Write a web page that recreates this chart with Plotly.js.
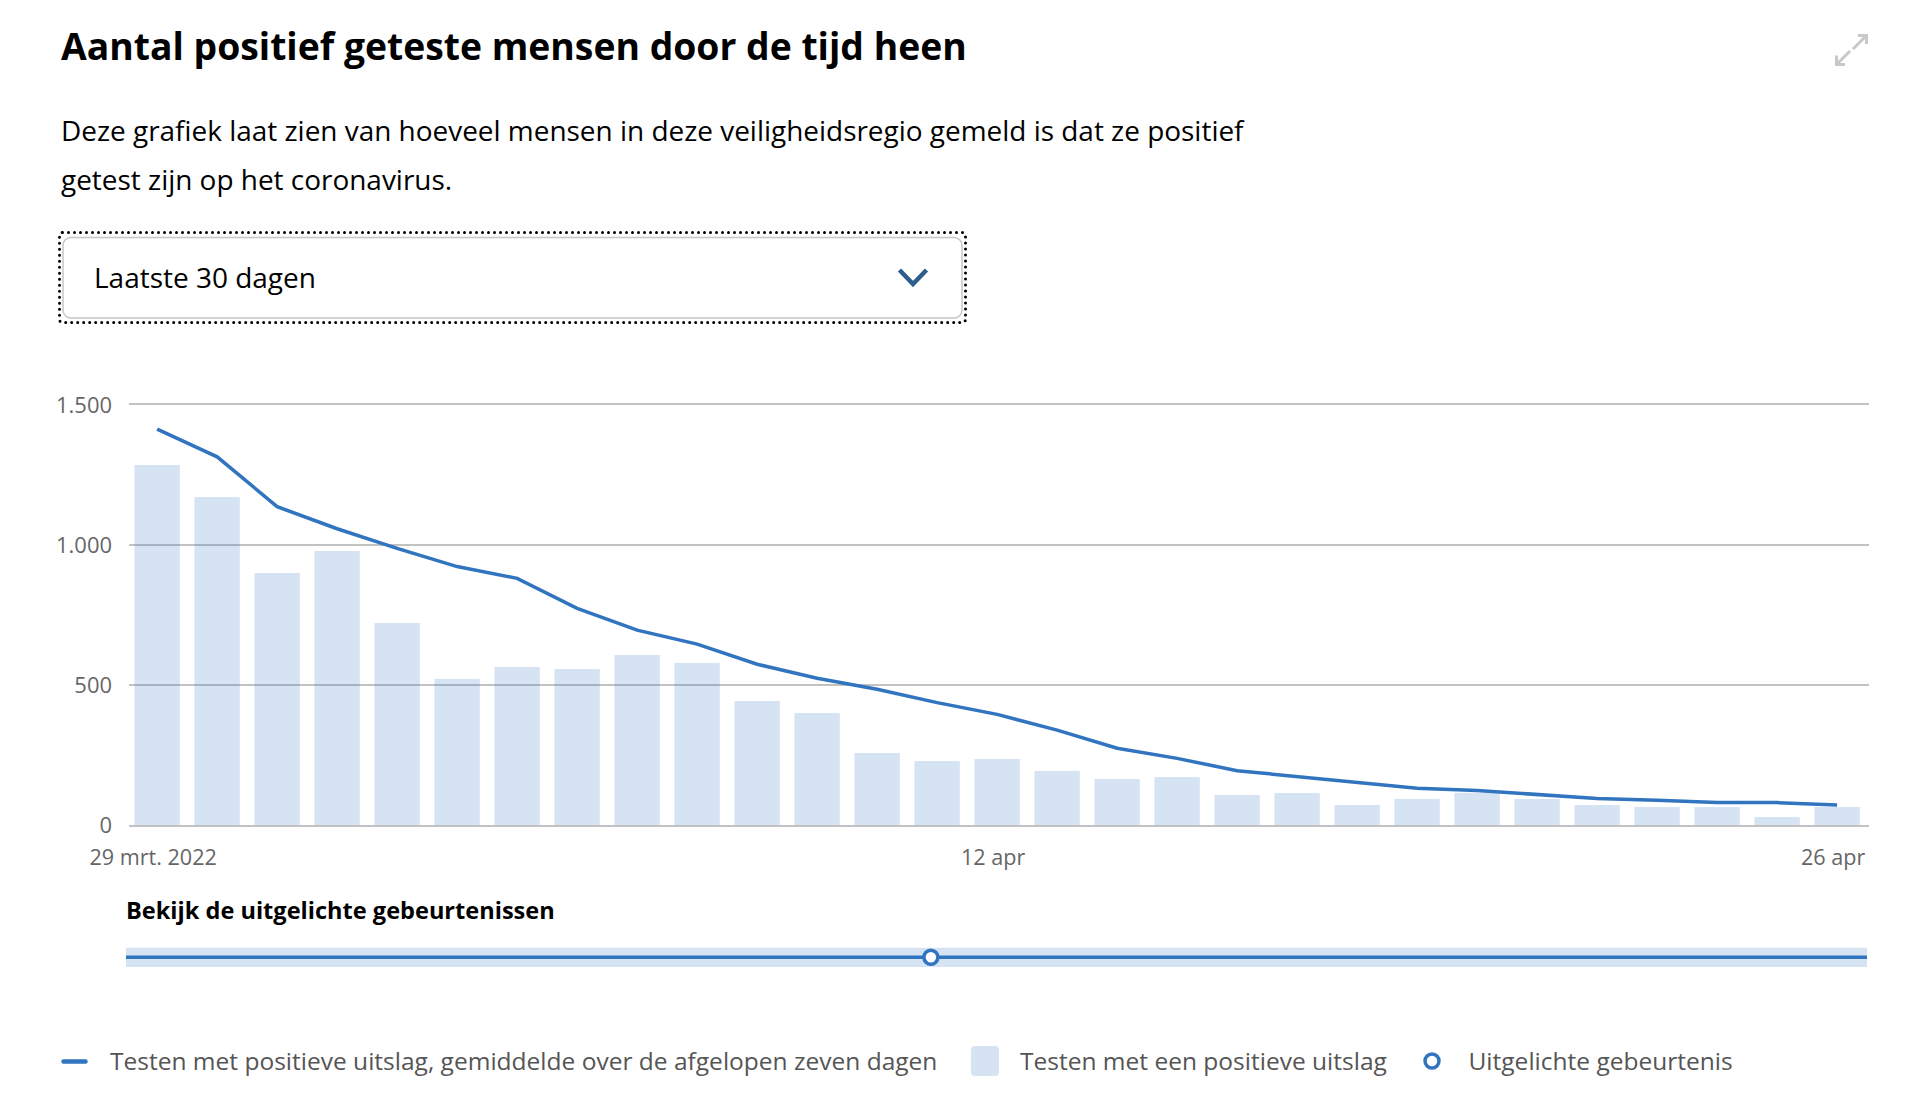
<!DOCTYPE html>
<html><head><meta charset="utf-8">
<script src="https://cdn.plot.ly/plotly-3.0.1.min.js"></script>
<style>
html,body{margin:0;padding:0;background:#fff;}
#wrap{position:relative;width:1922px;height:1110px;overflow:hidden;background:#fff;}
#chart{position:absolute;left:0;top:0;width:1922px;height:1110px;}
#overlay{position:absolute;left:0;top:0;pointer-events:none;}
</style></head><body>
<div id="wrap"><div id="chart"></div><svg id="overlay" width="1922" height="1110" xmlns="http://www.w3.org/2000/svg"></svg></div>
<script>
// ---------------- data ----------------
const dates = ['2022-03-29','2022-03-30','2022-03-31','2022-04-01','2022-04-02','2022-04-03','2022-04-04',
  '2022-04-05','2022-04-06','2022-04-07','2022-04-08','2022-04-09','2022-04-10','2022-04-11','2022-04-12',
  '2022-04-13','2022-04-14','2022-04-15','2022-04-16','2022-04-17','2022-04-18','2022-04-19','2022-04-20',
  '2022-04-21','2022-04-22','2022-04-23','2022-04-24','2022-04-25','2022-04-26'];
const positives = [1286,1171,900,979,721,521,564,557,607,579,443,400,257,229,236,193,164,171,107,114,71,93,115,93,71,64,64,29,64];
const avg7 = [1414,1315,1137,1058,988,923,881,774,696,646,574,524,485,437,395,339,274,238,194,173,150,131,123,110,95,88,80,80,71];
const eventDates = ['2022-04-10 21:30'];
const yTickVals = [0,500,1000,1500];
const yTickText = ['0','500','1.000','1.500'];
const xTickVals = ['2022-03-29','2022-04-12','2022-04-26'];
const xTickText = ['29 mrt. 2022','12 apr','26 apr'];

const titleText = 'Aantal positief geteste mensen door de tijd heen';
const descLines = ['Deze grafiek laat zien van hoeveel mensen in deze veiligheidsregio gemeld is dat ze positief',
                   'getest zijn op het coronavirus.'];
const dropdownText = 'Laatste 30 dagen';
const eventsTitle = 'Bekijk de uitgelichte gebeurtenissen';
const lineName = 'Testen met positieve uitslag, gemiddelde over de afgelopen zeven dagen';
const barName = 'Testen met een positieve uitslag';
const eventName = 'Uitgelichte gebeurtenis';

// ---------------- style ----------------
const FONT = '"Liberation Sans Narrow", "Open Sans", sans-serif';
const BLUE = '#3174C0';
const BAR = 'rgba(49,116,192,0.2)';
const GRID = '#c2c2c2';
const W = 1922, H = 1110;
const L = 129, R = 53, T = 405, B = 143;
const plotH = H - T - B;
const mainBottom = (967 - 825) / plotH;

const ctx = document.createElement('canvas').getContext('2d');
function fit(text, target, weight) {
  ctx.font = (weight || 'normal') + ' 100px ' + FONT;
  return 100 * target / ctx.measureText(text).width;
}
const titleSize = fit(titleText, 906, 'bold');
const descSize = fit(descLines[0], 1183);
const ddSize = fit(dropdownText, 222);
const evSize = fit(eventsTitle, 429, 'bold');
const legSize = fit(lineName, 828);
const yTickSize = fit('1.500', 56);
const xTickSize = fit('29 mrt. 2022', 127.5);

// ---------------- chart ----------------
const traces = [
  {type:'bar', x:dates, y:positives, name:barName, marker:{color:BAR}, hoverinfo:'x+y'},
  {type:'scatter', mode:'lines', x:dates, y:avg7, name:lineName, line:{color:BLUE, width:3.5}, hoverinfo:'x+y'},
  {type:'scatter', mode:'markers', x:eventDates, y:[0.5], xaxis:'x', yaxis:'y2', name:eventName, cliponaxis:false,
   marker:{symbol:'circle', size:14, color:'#ffffff', line:{color:BLUE, width:3.5}}, hoverinfo:'skip'}
];

const layout = {
  width: W, height: H,
  margin: {l:L, r:R, t:T, b:B, pad:0},
  paper_bgcolor:'rgba(0,0,0,0)', plot_bgcolor:'rgba(0,0,0,0)',
  font: {family: FONT, color:'#666666'},
  showlegend: false,
  bargap: 0.243,
  title: {text: titleText, xref:'container', x: 61/W, xanchor:'left', yref:'container', y: 1 - 59.5/H, yanchor:'bottom',
          pad:{t:0,b:0,l:0,r:0}, font:{family: FONT, size: titleSize, color:'#000000', weight:'bold'}},
  xaxis: {type:'date', range:['2022-03-28 12:45','2022-04-26 12:45'], anchor:'y',
          tickmode:'array', tickvals:xTickVals, ticktext:xTickText, ticks:'', showgrid:false, zeroline:false,
          showline:true, mirror:true, linecolor:GRID, linewidth:2,
          tickfont:{size:xTickSize, color:'#666666'}, ticklabelstandoff: 12, ticklabelshift: -4, fixedrange:true},
  yaxis: {domain:[mainBottom, 1], range:[0,1500], tickmode:'array', tickvals:yTickVals, ticktext:yTickText,
          ticks:'', showgrid:true, gridcolor:GRID, gridwidth:2, zeroline:false, showline:false,
          tickfont:{size:yTickSize, color:'#666666'}, ticklabelstandoff: 16, fixedrange:true},
  yaxis2: {domain:[0, 19.5/plotH], range:[0,1], visible:false, fixedrange:true, anchor:'x'},
  shapes: [
    {type:'rect', xref:'paper', yref:'y2', x0:(126-L)/(W-L-R), x1:(1867-L)/(W-L-R), y0:0, y1:1,
     fillcolor:BAR, line:{width:0}, layer:'below'},
    {type:'line', xref:'paper', yref:'y2', x0:(126-L)/(W-L-R), x1:(1867-L)/(W-L-R), y0:0.5, y1:0.5,
     line:{color:BLUE, width:3.5}, layer:'below'}
  ]
};
Plotly.newPlot('chart', traces, layout, {displayModeBar:false, responsive:false});

// ---------------- overlay (header, dropdown, legend) ----------------
const svg = document.getElementById('overlay');
const NS = 'http://www.w3.org/2000/svg';
function el(tag, attrs, text) {
  const e = document.createElementNS(NS, tag);
  for (const k in attrs) e.setAttribute(k, attrs[k]);
  if (text !== undefined) e.textContent = text;
  svg.appendChild(e);
  return e;
}
function txt(x, y, s, size, color, weight) {
  return el('text', {x:x, y:y, 'font-family':FONT, 'font-size':size, fill:color, 'font-weight':weight||'normal'}, s);
}
// description
txt(61, 141, descLines[0], descSize, '#000000');
txt(61, 190, descLines[1], descSize, '#000000');
// dropdown
el('rect', {x:63, y:237.5, width:899, height:80.5, rx:8, ry:8, fill:'#ffffff', stroke:'#c6c6c6', 'stroke-width':1.5});
el('rect', {x:59.5, y:232.5, width:906, height:90, rx:3, ry:3, fill:'none', stroke:'#000000', 'stroke-width':3,
            'stroke-dasharray':'0 6', 'stroke-linecap':'round'});
txt(94, 288, dropdownText, ddSize, '#000000');
el('polyline', {points:'899.5,270 913,284 926.5,270', fill:'none', stroke:'#2C5F8D', 'stroke-width':4.5,
                'stroke-linejoin':'miter', 'stroke-linecap':'butt'});
// expand icon
el('path', {d:'M1853,49 L1866,36 M1858,35.5 L1866.5,35.5 L1866.5,44 M1837,64 L1850,51 M1836.5,55.5 L1836.5,64.5 L1845,64.5',
            fill:'none', stroke:'#c8c8c8', 'stroke-width':3});
// events title
txt(126, 919, eventsTitle, evSize, '#000000', 'bold');
// legend
el('line', {x1:63.5, y1:1061.5, x2:85.5, y2:1061.5, stroke:BLUE, 'stroke-width':4.5, 'stroke-linecap':'round'});
txt(110, 1070, lineName, legSize, '#555555');
el('rect', {x:971, y:1046, width:28, height:30, rx:4, ry:4, fill:BAR});
txt(1020, 1070, barName, legSize, '#555555');
el('circle', {cx:1432, cy:1061, r:7, fill:'#ffffff', stroke:BLUE, 'stroke-width':3.5});
txt(1468.5, 1070, eventName, legSize, '#555555');
</script>
</body></html>
